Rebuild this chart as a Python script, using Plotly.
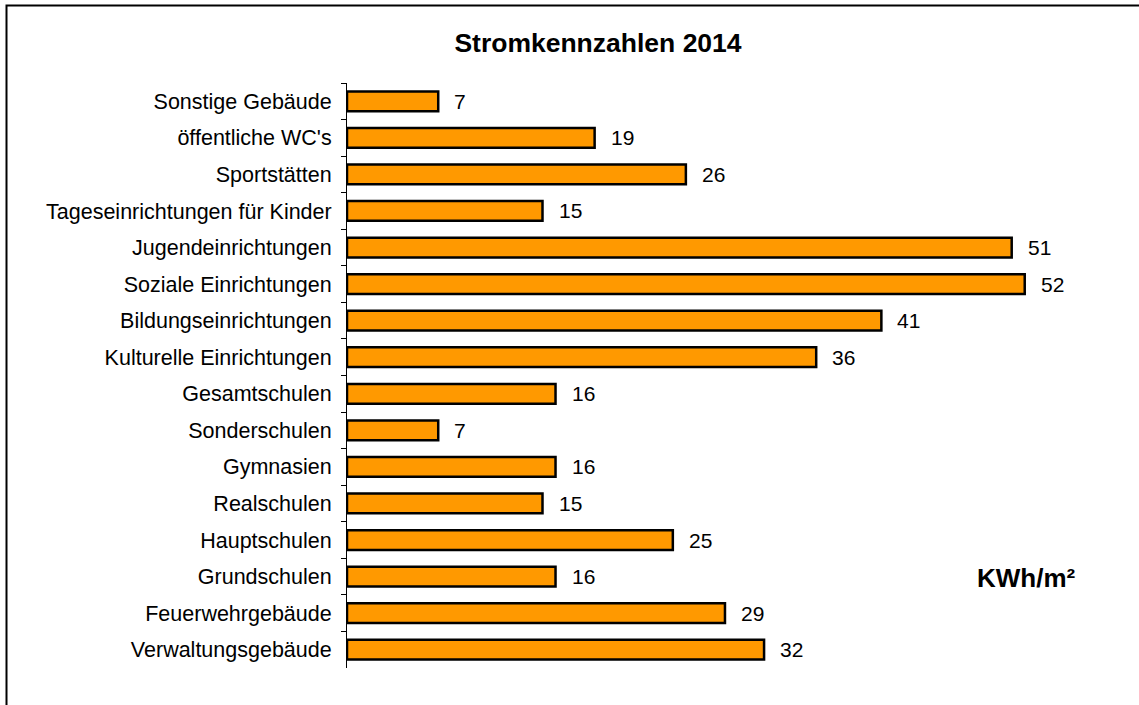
import plotly.graph_objects as go

categories = [
    "Sonstige Gebäude", "öffentliche WC's", "Sportstätten",
    "Tageseinrichtungen für Kinder", "Jugendeinrichtungen",
    "Soziale Einrichtungen", "Bildungseinrichtungen",
    "Kulturelle Einrichtungen", "Gesamtschulen", "Sonderschulen",
    "Gymnasien", "Realschulen", "Hauptschulen", "Grundschulen",
    "Feuerwehrgebäude", "Verwaltungsgebäude",
]
values = [7, 19, 26, 15, 51, 52, 41, 36, 16, 7, 16, 15, 25, 16, 29, 32]
title_text = "Stromkennzahlen 2014"
unit_text = "KWh/m²"

W, H = 1139, 705
ML, MR, MT, MB = 347, 10, 83, 37
PW, PH = W - ML - MR, H - MT - MB
FONT = "Liberation Sans, Arial"

fig = go.Figure(go.Bar(
    x=values, y=categories, orientation="h",
    marker=dict(color="#FF9900", line=dict(color="black", width=2.5)),
    hoverinfo="x+y",
))

for c, v in zip(categories, values):
    fig.add_annotation(x=v, y=c, text=str(v), showarrow=False,
                       xanchor="left", xshift=14,
                       font=dict(family=FONT, size=21, color="black"))

fig.add_annotation(xref="paper", yref="paper",
                   x=(1026 - ML) / PW, y=(H - MB - 578) / PH,
                   text="<b>" + unit_text + "</b>", showarrow=False,
                   xanchor="center", yanchor="middle",
                   font=dict(family=FONT, size=26, color="black"))

fig.add_shape(type="rect", xref="paper", yref="paper",
              x0=(6.5 - ML) / PW, x1=(1160 - ML) / PW,
              y0=(H - MB - 730) / PH, y1=(H - MB - 5.5) / PH,
              line=dict(color="black", width=2), fillcolor="rgba(0,0,0,0)",
              layer="below")

fig.update_layout(
    width=W, height=H,
    margin=dict(l=ML, r=MR, t=MT, b=MB),
    paper_bgcolor="white", plot_bgcolor="white",
    bargap=0.46,
    showlegend=False,
    title=dict(text="<b>" + title_text + "</b>", x=598 / W, xanchor="center",
               y=1 - 43 / H, yanchor="middle", yref="container",
               font=dict(family=FONT, size=26.5, color="black")),
    font=dict(family=FONT, size=21.5, color="black"),
    xaxis=dict(range=[0, 60], visible=False, showgrid=False, zeroline=False),
    yaxis=dict(autorange="reversed", showline=True, linecolor="black", linewidth=1,
               ticks="outside", ticklen=5, tickcolor="black", tickson="boundaries",
               ticklabelstandoff=10, showgrid=False,
               tickfont=dict(family=FONT, size=21.5, color="black")),
)

fig.write_html("out.html", config={"displayModeBar": False},
               post_script="document.body.style.margin='0';")
